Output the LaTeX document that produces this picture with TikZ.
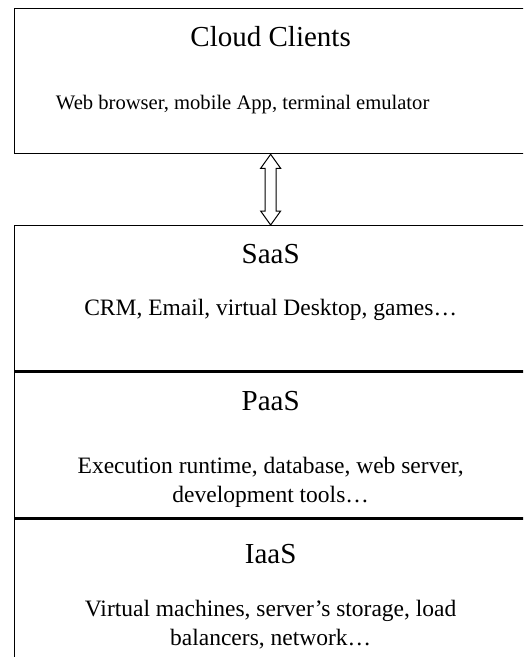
\documentclass[tikz,border=0pt]{standalone}
\usepackage{fontspec}
\setmainfont{Liberation Serif}
\usetikzlibrary{positioning,calc}

\begin{document}
\begin{tikzpicture}[node distance=1cm, thick]
  \tikzstyle{layer} = [rectangle, draw, line width=1.3pt, minimum width=600pt, inner sep=0pt]
  \tikzstyle{heading} = [font=\fontsize{29}{34}\selectfont, inner sep=0pt, text height=20pt, text depth=6pt, xshift=-44pt]
  \tikzstyle{detail} = [font=\fontsize{23.5}{28.5}\selectfont, align=center, inner sep=0pt]
  \tikzstyle{hollow} = [draw, line width=1pt, fill=white, line join=miter]

  \useasboundingbox (0,0) rectangle (523pt,-657pt);
  \clip (0,0) rectangle (523pt,-657pt);

  \node[layer, minimum height=145pt, anchor=north west] (clients) at (14pt,-8pt) {};
  \node[layer, minimum height=145pt, below=70.7pt of clients] (saas) {};
  \node[layer, minimum height=145.7pt, below=0pt of saas] (paas) {};
  \node[layer, minimum height=150pt, below=0pt of paas] (iaas) {};

  \node[heading, below=18pt of clients.north] (clientstitle) {Cloud Clients};
  \node[detail, font=\fontsize{20.6}{25}\selectfont, below=42pt of clientstitle, xshift=-28pt] (clientstext) {Web browser, mobile App, terminal emulator};

  \node[heading, below=18pt of saas.north] (saastitle) {SaaS};
  \node[detail, below=29pt of saastitle] (saastext) {CRM, Email, virtual Desktop, games…};

  \node[heading, below=19pt of paas.north] (paastitle) {PaaS};
  \node[detail, below=40pt of paastitle] (paastext) {Execution runtime, database, web server,\\ development tools…};

  \node[heading, below=25pt of iaas.north] (iaastitle) {IaaS};
  \node[detail, below=30pt of iaastitle] (iaastext) {Virtual machines, server’s storage, load\\ balancers, network…};

  % two-headed hollow arrow between the clients and the layers
  \coordinate (up) at ([xshift=-44pt]clients.south);
  \coordinate (down) at ([xshift=-44pt]saas.north);
  \path[hollow] (up) -- ++(10pt,-14pt) -- ++(-4.5pt,0pt)
    -- ($(down)+(5.5pt,14pt)$) -- ++(4.5pt,0pt) -- (down)
    -- ++(-10pt,14pt) -- ++(4.5pt,0pt)
    -- ($(up)+(-5.5pt,-14pt)$) -- ++(-4.5pt,0pt) -- cycle;

\end{tikzpicture}
\end{document}
